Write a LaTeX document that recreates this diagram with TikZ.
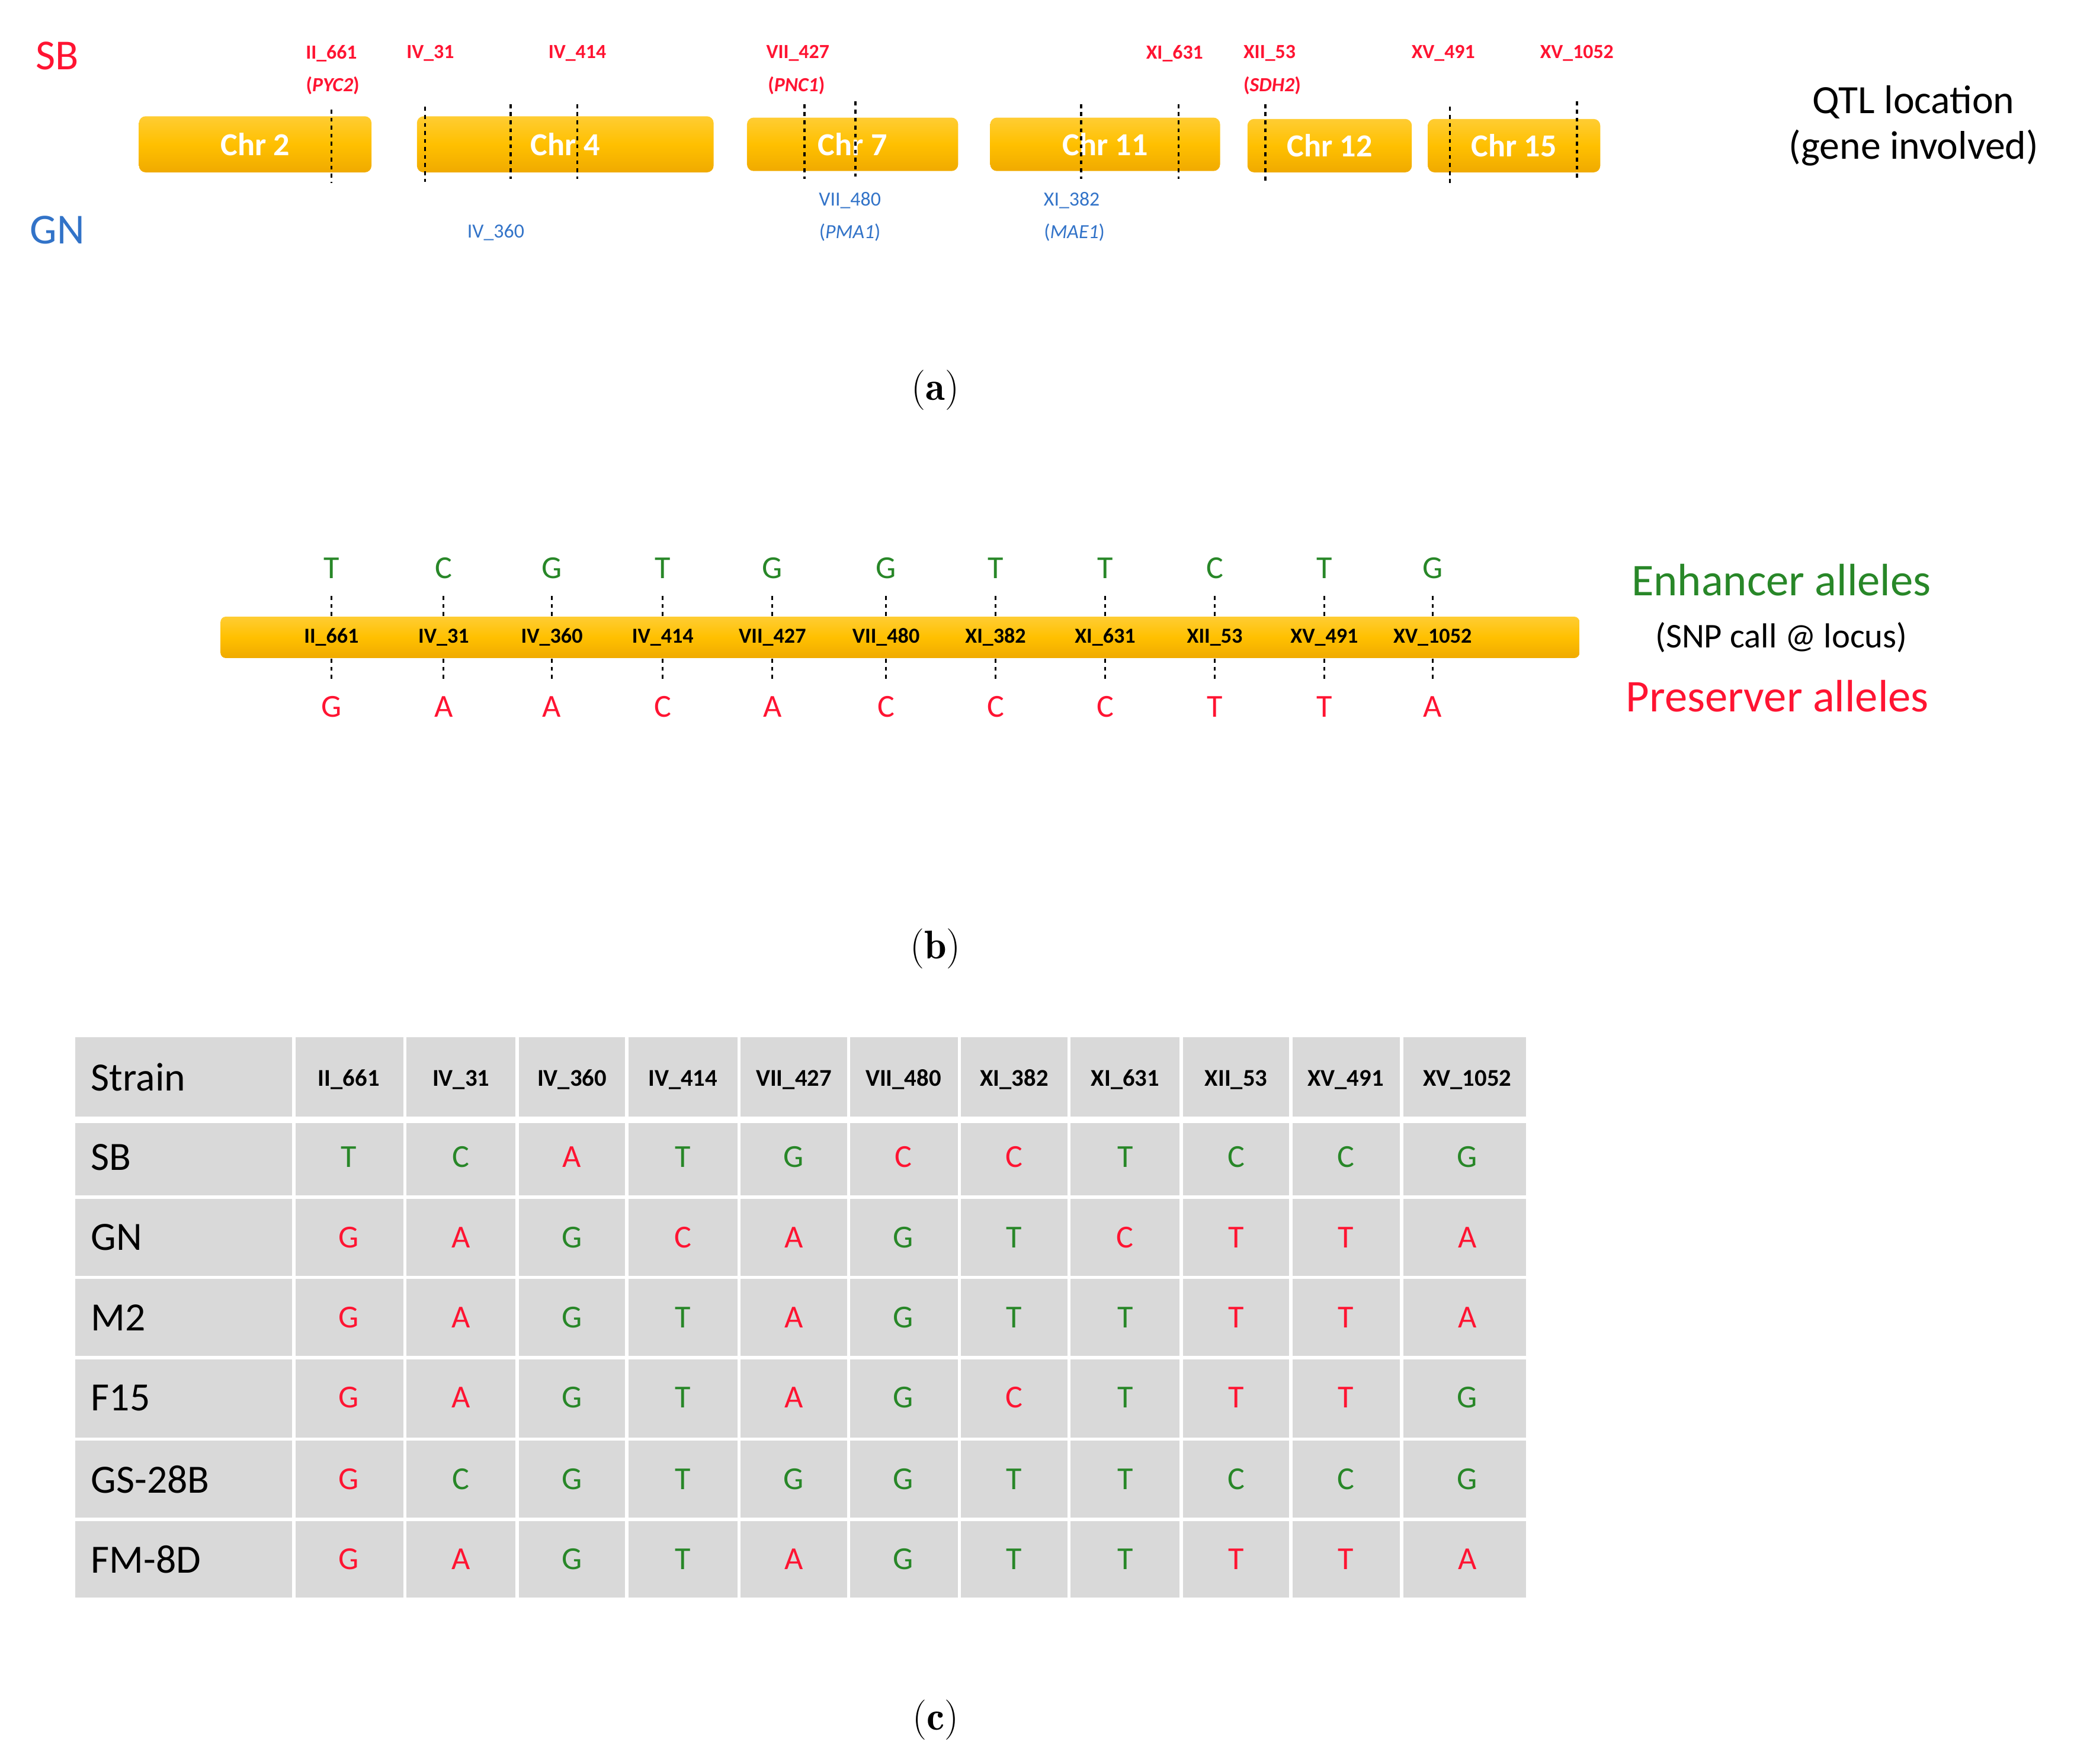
\documentclass[tikz,border=0pt]{standalone}
\usepackage{fontspec}
\setmainfont{Carlito}
\begin{document}
\definecolor{gold}{RGB}{255,192,0}
\definecolor{goldd}{RGB}{240,170,0}
\definecolor{sred}{RGB}{255,20,50}
\definecolor{sgreen}{RGB}{40,135,40}
\definecolor{sblue}{RGB}{50,115,200}
\definecolor{cell}{RGB}{217,217,217}
\def\mygch{g}
\begin{tikzpicture}[x=1pt,y=-1pt,
  chr/.style={rounded corners=5pt,top color=gold!80!white,bottom color=goldd,middle color=gold,draw=none},
  chrlab/.style={text=white,font=\fontsize{24}{24}\selectfont\bfseries},
  tick/.style={black,line width=1.6pt,dash pattern=on 3pt off 3pt},
  rl/.style={text=sred,font=\fontsize{15}{16}\selectfont\bfseries,inner sep=0pt},
  bl/.style={text=sblue,font=\fontsize{15}{16}\selectfont,inner sep=0pt},
  big/.style={font=\fontsize{32}{32}\selectfont,inner sep=0pt},
  figcap/.style={font=\fontfamily{lmr}\fontsize{30}{30}\selectfont,inner sep=0pt},
  allele/.style={font=\fontsize{24}{24}\selectfont,inner sep=0pt},
  cellbox/.style={fill=cell,draw=white,line width=2.5pt}]
\useasboundingbox (0,0) rectangle (1564,1320);
% ---------- (a)
\node[big,text=sred] (sb) at (43,42) {SB};
\node[big,text=sblue] (gn) at (43,172) {GN};
\node[chr] (c2) at (191,108) [minimum width=174pt,minimum height=42pt] {};
\node[chr] (c4) at (423,108) [minimum width=222pt,minimum height=42pt] {};
\node[chr] (c7) at (638,108) [minimum width=158pt,minimum height=40pt] {};
\node[chr] (c11) at (827,108) [minimum width=172pt,minimum height=40pt] {};
\node[chr] (c12) at (995,109) [minimum width=123pt,minimum height=40pt] {};
\node[chr] (c15) at (1133,109) [minimum width=129pt,minimum height=40pt] {};
\node[chrlab] (t2) at (c2) {Chr 2};
\node[chrlab] (t4) at (c4) {Chr 4};
\node[chrlab] (t7) at (c7) {Chr 7};
\node[chrlab] (t11) at (c11) {Chr 11};
\node[chrlab] (t12) at (c12) {Chr 12};
\node[chrlab] (t15) at (c15) {Chr 15};
\foreach \x/\a/\b [count=\i] in {248/82/137,318/80/136,382/78/134,432/78/134,602/78/134,640/76/132,809/78/134,882/78/134,947/78/136,1085/80/137,1180/76/134}
  \draw[tick] (\x,\a) coordinate (ta\i) -- (\x,\b) coordinate (tb\i);
\node[rl] (l1) at (248,40) {II\_661};
\node[rl] (g1) at (249,64) {(\textit{PYC2})};
\node[rl] (l2) at (322,40) {IV\_31};
\node[rl] (l4) at (432,40) {IV\_414};
\node[rl] (l5) at (597,40) {VII\_427};
\node[rl] (g5) at (596,64) {(\textit{PNC1})};
\node[rl] (l8) at (879,40) {XI\_631};
\node[rl] (l9) at (950,40) {XII\_53};
\node[rl] (g9) at (952,64) {(\textit{SDH2})};
\node[rl] (l10) at (1080,40) {XV\_491};
\node[rl] (l11) at (1180,40) {XV\_1052};
\node[bl] (l6) at (636,150) {VII\_480};
\node[bl] (g6) at (636,174) {(\textit{PMA1})};
\node[bl] (l7) at (802,150) {XI\_382};
\node[bl] (g7) at (804,174) {(\textit{MAE1})};
\node[bl] (l3) at (371,174) {IV\_360};
\node[font=\fontsize{30}{30}\selectfont,align=center,inner sep=0pt] (qtl) at (1432,94) {QTL location\\[4pt](gene involved)};
\node[figcap] (capa) at (700,292) {(\textbf{a})};
% ---------- (b)
\node[chr,rounded corners=4pt] (bar) at (673.5,477) [minimum width=1017pt,minimum height=31pt] {};
\foreach \x/\loc/\e/\p [count=\i] in {248/II\_661/T/G,332/IV\_31/C/A,413/IV\_360/G/A,496/IV\_414/T/C,578/VII\_427/G/A,663/VII\_480/G/C,745/XI\_382/T/C,827/XI\_631/T/C,909/XII\_53/C/T,991/XV\_491/T/T,1072/XV\_1052/G/A}{
  \node[allele,text=sgreen] (e\i) at (\x,425) {\e};
  \node[allele,text=sred] (p\i) at (\x,529) {\p};
  \draw[tick,line width=1.3pt] (\x,446) -- (\x,462);
  \draw[tick,line width=1.3pt] (\x,493) -- (\x,510);
  \node[font=\fontsize{16}{16}\selectfont\bfseries,inner sep=0pt] (bl\i) at (\x,477) {\loc};
}
\node[font=\fontsize{34}{34}\selectfont,text=sgreen,inner sep=0pt] (enh) at (1333,434) {Enhancer alleles};
\node[font=\fontsize{26}{26}\selectfont,inner sep=0pt] (snp) at (1333,477) {(SNP call @ locus)};
\node[font=\fontsize{34}{34}\selectfont,text=sred,inner sep=0pt] (pre) at (1330,521) {Preserver alleles};
\node[figcap] (capb) at (700,710) {(\textbf{b})};
% ---------- (c)
\foreach \ya/\yb [count=\r] in {775/838,838/896,896/956,956/1016,1016/1077,1077/1137,1137/1197}{
  \foreach \xa/\xb [count=\c] in {55/220,220/303,303/387,387/469,469/553,553/635,635/718,718/800,800/884,884/966,966/1049,1049/1143}
    \path[cellbox] (\xa,\ya) rectangle (\xb,\yb);
}
\draw[white,line width=5pt] (55,838) -- (1143,838);
\node[font=\fontsize{30}{30}\selectfont,anchor=west,inner sep=0pt] (hs) at (68,806) {Strain};
\foreach \x/\loc [count=\i] in {261/II\_661,345/IV\_31,428/IV\_360,511/IV\_414,594/VII\_427,676/VII\_480,759/XI\_382,842/XI\_631,925/XII\_53,1007/XV\_491,1098/XV\_1052}
  \node[font=\fontsize{18}{18}\selectfont\bfseries,inner sep=0pt] (h\i) at (\x,808) {\loc};
\foreach \name/\y/\data [count=\r] in {
  SB/866/{T/g,C/g,A/r,T/g,G/g,C/r,C/r,T/g,C/g,C/g,G/g},
  GN/926/{G/r,A/r,G/g,C/r,A/r,G/g,T/g,C/r,T/r,T/r,A/r},
  M2/986/{G/r,A/r,G/g,T/g,A/r,G/g,T/g,T/g,T/r,T/r,A/r},
  F15/1046/{G/r,A/r,G/g,T/g,A/r,G/g,C/r,T/g,T/r,T/r,G/g},
  GS-28B/1107/{G/r,C/g,G/g,T/g,G/g,G/g,T/g,T/g,C/g,C/g,G/g},
  FM-8D/1167/{G/r,A/r,G/g,T/g,A/r,G/g,T/g,T/g,T/r,T/r,A/r}}{
  \node[font=\fontsize{30}{30}\selectfont,anchor=west,inner sep=0pt] (s\r) at (68,\y) {\name};
  \foreach \b/\cl [count=\c] in \data {
    \pgfmathsetmacro\xx{{261,345,428,511,594,676,759,842,925,1007,1098}[\c-1]}
    \def\mycl{\cl}
    \edef\mycl{\cl}
    \ifx\mycl\mygch\def\cc{sgreen}\else\def\cc{sred}\fi
    \node[allele,text=\cc] (v\r-\c) at (\xx,\y) {\b};
  }
}
\node[figcap] (capc) at (700,1287) {(\textbf{c})};
\end{tikzpicture}
\end{document}
